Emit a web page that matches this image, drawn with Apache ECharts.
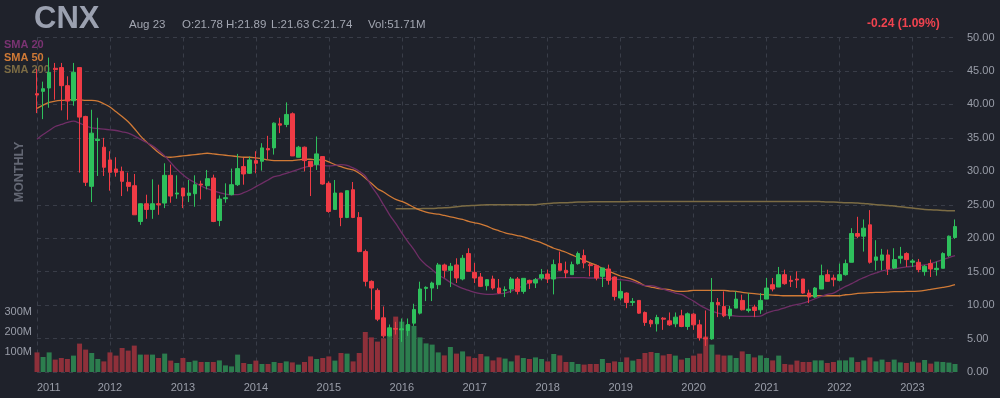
<!DOCTYPE html>
<html>
<head>
    <meta charset="UTF-8">
    <title>CNX monthly</title>
    <script src="https://cdn.jsdelivr.net/npm/echarts@6/dist/echarts.min.js"></script>
    <style>
        html, body { margin: 0; padding: 0; background: #1f222b; }
        #chart { width: 1000px; height: 398px; }
    </style>
</head>
<body>
    <div id="chart"></div>
    <script>
        // monthly bars Jan 2011 .. Aug 2023
        var months = [];
        for (var y = 2011; y <= 2023; y++) {
            for (var m = 1; m <= 12; m++) {
                if (y === 2023 && m > 8) break;
                months.push(y + '-' + (m < 10 ? '0' + m : m));
            }
        }

        var opens = [41.6, 41.95, 42.45, 45.4, 45.5, 42.8, 40.55, 45.5, 38.2, 27.75, 34.6, 33.6,
            31.7, 30.35, 30.0, 28.35, 27.85, 22.5, 25.15, 24.3, 25.15, 25.25, 29.4, 26.6,
            27.5, 26.4, 26.65, 28.1, 27.85, 29.0, 22.65, 25.9, 26.5, 28.0, 30.7, 29.7,
            31.6, 31.5, 33.4, 33.5, 37.1, 37.0, 38.6, 32.1, 33.6, 31.5, 31.0, 32.2,
            28.2, 24.3, 26.75, 23.1, 27.25, 23.1, 18.0, 13.55, 12.2, 8.1, 5.4, 6.5,
            6.3, 6.2, 7.3, 8.8, 12.5, 12.55, 13.05, 16.0, 15.2, 16.0, 13.9, 17.7,
            14.9, 14.2, 12.9, 13.9, 12.55, 12.2, 12.4, 13.9, 12.05, 13.7, 13.3, 14.05,
            14.65, 13.9, 16.2, 15.2, 14.55, 16.2, 17.4, 16.05, 15.9, 14.3, 15.4, 14.2,
            11.05, 11.8, 10.4, 10.7, 8.9, 7.7, 7.2, 8.05, 7.65, 7.2, 8.4, 6.8,
            8.65, 7.05, 5.1, 4.95, 10.4, 9.8, 8.4, 9.55, 10.7, 9.2, 9.7, 9.3,
            10.9, 13.05, 12.7, 14.55, 13.7, 13.9, 13.9, 11.8, 11.2, 12.4, 14.55, 14.05,
            13.7, 14.55, 16.4, 20.7, 20.3, 22.0, 16.7, 16.7, 17.5, 15.55, 17.0, 17.7,
            16.4, 16.4, 15.0, 16.2, 15.3, 15.5, 17.4, 20.1];
        var highs = [45.3, 43.4, 47.0, 46.2, 46.2, 44.2, 46.2, 45.5, 38.3, 39.2, 38.0, 35.0,
            33.0, 32.1, 30.7, 29.8, 29.6, 25.2, 26.5, 28.8, 28.0, 31.2, 31.0, 29.4,
            27.5, 28.7, 29.4, 28.6, 30.2, 29.5, 26.4, 28.2, 30.4, 32.6, 32.0, 32.2,
            33.0, 34.2, 35.3, 37.3, 38.0, 40.3, 38.8, 33.8, 33.7, 31.5, 35.2, 32.2,
            28.5, 28.7, 26.75, 27.1, 28.4, 23.9, 18.3, 13.7, 12.5, 9.8, 7.1, 7.5,
            8.0, 8.0, 10.2, 13.5, 12.8, 13.5, 16.3, 16.2, 16.3, 17.0, 17.5, 18.5,
            16.3, 14.8, 13.9, 14.4, 13.9, 12.8, 14.2, 14.2, 14.0, 13.8, 14.05, 15.4,
            15.3, 16.8, 18.0, 16.5, 16.5, 18.0, 18.3, 16.3, 16.05, 15.55, 16.05, 14.3,
            13.55, 11.9, 11.05, 10.7, 9.05, 7.9, 8.55, 8.2, 8.9, 8.9, 9.3, 8.9,
            8.8, 7.8, 9.2, 14.05, 11.05, 12.05, 9.9, 12.05, 11.55, 11.8, 10.05, 11.8,
            14.05, 14.05, 15.7, 15.3, 14.4, 15.05, 13.9, 12.3, 12.7, 16.05, 15.3, 14.55,
            16.2, 16.8, 21.5, 23.2, 22.8, 24.2, 19.7, 18.4, 18.3, 18.5, 18.7, 17.9,
            16.9, 16.9, 16.0, 16.8, 16.5, 17.9, 20.4, 22.8];
        var lows = [38.7, 37.8, 39.5, 40.7, 39.1, 37.7, 39.8, 29.8, 27.8, 25.4, 29.3, 29.3,
            27.1, 29.2, 26.3, 27.0, 23.5, 22.0, 22.9, 22.9, 23.5, 24.5, 25.3, 25.9,
            24.5, 25.4, 24.7, 25.8, 27.3, 22.4, 21.8, 25.3, 26.4, 27.8, 28.0, 29.6,
            29.7, 30.1, 31.8, 32.5, 35.7, 36.6, 32.3, 32.1, 30.0, 26.3, 30.2, 28.0,
            23.8, 24.3, 21.8, 23.0, 23.0, 17.9, 12.8, 9.3, 7.6, 5.1, 5.3, 5.6,
            4.5, 5.4, 6.9, 8.6, 10.6, 10.6, 12.4, 14.1, 12.7, 13.3, 13.7, 15.0,
            13.3, 12.7, 12.2, 12.3, 11.7, 11.2, 11.8, 11.6, 11.7, 12.4, 12.55, 13.7,
            13.3, 11.6, 15.2, 14.05, 14.55, 16.05, 15.5, 14.3, 13.7, 12.7, 13.05, 10.7,
            10.7, 9.55, 9.9, 8.7, 6.9, 6.7, 6.05, 6.3, 6.9, 6.7, 6.7, 6.3,
            6.3, 4.7, 3.9, 4.8, 8.2, 8.2, 7.9, 9.55, 9.2, 8.9, 8.2, 8.7,
            10.9, 12.05, 12.7, 13.05, 12.7, 12.55, 11.7, 10.3, 11.05, 12.4, 13.55, 12.8,
            13.55, 14.4, 16.4, 20.0, 18.0, 16.2, 15.2, 15.2, 14.5, 15.4, 16.2, 15.7,
            15.7, 14.9, 14.4, 14.2, 14.4, 15.5, 17.2, 19.9];
        var closes = [41.4, 42.35, 44.8, 45.2, 42.8, 40.5, 44.8, 38.1, 28.35, 35.7, 34.8, 30.6,
            29.85, 29.85, 28.5, 27.75, 23.5, 25.15, 24.3, 25.15, 25.0, 29.4, 26.3, 26.75,
            26.3, 26.75, 28.0, 27.95, 28.9, 22.5, 25.85, 26.05, 28.0, 30.4, 29.6, 31.7,
            31.2, 33.5, 33.2, 37.2, 36.9, 38.5, 32.3, 33.6, 31.6, 30.7, 32.6, 28.1,
            24.0, 26.75, 23.1, 27.1, 23.1, 18.0, 13.55, 12.55, 7.9, 5.4, 6.6, 6.4,
            6.45, 7.1, 9.35, 12.4, 12.65, 13.3, 16.0, 15.2, 15.8, 14.05, 17.0, 15.05,
            14.05, 12.8, 13.8, 12.55, 11.8, 12.3, 13.9, 12.05, 14.0, 13.3, 13.8, 14.55,
            13.9, 16.05, 15.2, 14.8, 16.05, 17.7, 16.3, 15.9, 14.05, 15.55, 13.7, 11.3,
            12.05, 10.4, 10.55, 8.8, 7.4, 7.2, 8.15, 7.9, 7.05, 8.2, 6.8, 8.7,
            7.05, 5.1, 4.95, 10.4, 10.05, 8.4, 9.4, 10.9, 9.3, 9.4, 9.2, 10.7,
            12.55, 12.4, 14.55, 13.2, 13.55, 13.75, 11.8, 11.2, 12.55, 14.4, 13.55, 13.8,
            14.55, 16.2, 20.7, 20.3, 21.5, 16.4, 17.2, 17.5, 15.4, 16.8, 17.3, 16.8,
            16.6, 15.3, 15.8, 15.4, 15.5, 17.7, 20.3, 21.74];
        // volume in millions
        var volumes = [98, 75, 98, 62, 70, 65, 82, 142, 112, 95, 65, 53,
            98, 82, 120, 107, 132, 87, 87, 87, 70, 92, 57, 45,
            70, 50, 57, 50, 50, 50, 58, 33, 28, 87, 45, 40,
            57, 40, 40, 50, 45, 53, 48, 37, 50, 78, 65, 70,
            78, 57, 95, 92, 53, 95, 200, 173, 152, 168, 185, 277,
            252, 235, 230, 173, 143, 137, 98, 83, 125, 92, 103, 78,
            70, 90, 78, 58, 73, 67, 53, 83, 70, 65, 73, 65,
            53, 90, 83, 50, 50, 40, 37, 40, 40, 65, 45, 53,
            50, 73, 57, 65, 95, 100, 95, 83, 90, 82, 62, 70,
            82, 92, 178, 137, 87, 82, 83, 70, 103, 90, 73, 83,
            70, 58, 82, 40, 37, 57, 50, 50, 58, 58, 45, 50,
            58, 58, 73, 50, 58, 73, 53, 62, 50, 62, 48, 45,
            52, 47, 60, 42, 52, 50, 47, 40];
        var sma20 = [34.8, 35.5, 36.1, 36.7, 37.0, 37.3, 37.5, 37.2, 36.8, 36.5, 36.4, 36.3,
            36.2, 36.1, 35.9, 35.7, 35.3, 34.8, 34.3, 33.8, 33.1, 32.3, 31.3, 30.3,
            29.5, 28.8, 28.3, 27.8, 27.4, 27.1, 26.8, 26.6, 26.5, 26.5, 26.8, 27.2,
            27.7, 28.2, 28.7, 29.2, 29.4, 29.7, 30.0, 30.3, 30.6, 30.8, 31.0, 30.9,
            30.8, 30.9, 31.0, 30.9, 30.5, 30.0, 29.3, 27.8, 26.5, 25.0, 23.5, 22.2,
            20.8, 19.5, 18.3, 16.9, 16.0, 15.3, 14.5, 14.0, 13.4, 12.9, 12.5, 12.2,
            11.9, 11.7, 11.6, 11.6, 11.7, 11.8, 12.1, 12.5, 12.9, 13.4, 13.8, 14.0,
            14.05, 14.05, 14.1, 14.1, 14.1, 14.1, 14.1, 14.05, 14.05, 14.0, 14.0, 13.9,
            13.8, 13.7, 13.5, 13.2, 12.9, 12.9, 12.7, 12.4, 12.1, 11.8, 11.6, 11.1,
            10.6, 10.0, 9.5, 9.1, 8.8, 8.6, 8.45, 8.35, 8.3, 8.3, 8.3, 8.35,
            8.8, 9.1, 9.3, 9.6, 9.9, 10.1, 10.3, 10.6, 10.95, 11.3, 11.6, 11.8,
            12.3, 12.8, 13.2, 13.7, 14.1, 14.5, 14.8, 15.1, 15.3, 15.45, 15.55, 15.7,
            15.8, 15.9, 16.0, 16.2, 16.5, 16.8, 17.1, 17.4];
        var sma50 = [39.4, 39.9, 40.3, 40.5, 40.6, 40.65, 40.7, 40.7, 40.6, 40.6, 40.5, 40.1,
            39.6, 38.9, 38.2, 37.4, 36.4, 35.3, 34.4, 33.6, 32.8, 32.2, 32.1, 32.2,
            32.3, 32.4, 32.5, 32.6, 32.7, 32.6, 32.5, 32.4, 32.3, 32.2, 32.1, 32.1,
            32.0, 31.9, 31.7, 31.6, 31.6, 31.6, 31.6, 31.7, 31.8, 31.8, 31.7, 31.7,
            31.4, 31.0, 30.7, 30.4, 30.2, 29.7, 29.0, 28.2, 27.4, 26.9, 26.3, 25.8,
            25.5, 25.1, 24.6, 24.2, 23.9, 23.7, 23.6, 23.4, 23.2, 23.0, 22.8, 22.5,
            22.3, 22.1, 21.8, 21.4, 21.1, 20.8, 20.6, 20.4, 20.2, 19.9, 19.6, 19.3,
            18.9, 18.5, 18.2, 17.9, 17.5, 17.1, 16.7, 16.3, 15.95, 15.5, 15.1, 14.7,
            14.35, 14.1, 13.8, 13.4, 12.9, 12.7, 12.5, 12.4, 12.3, 12.1, 12.05, 12.1,
            12.2, 12.2, 12.2, 12.2, 12.2, 12.2, 12.1, 12.05, 11.9, 11.8, 11.7, 11.6,
            11.55, 11.5, 11.45, 11.4, 11.4, 11.4, 11.4, 11.4, 11.4, 11.4, 11.4, 11.4,
            11.4, 11.55, 11.6, 11.75, 11.8, 11.85, 11.9, 11.9, 11.95, 12.0, 12.0, 12.05,
            12.05, 12.1, 12.2, 12.35, 12.5, 12.65, 12.8, 13.05];
        var sma200 = [null, null, null, null, null, null, null, null, null, null, null, null,
            null, null, null, null, null, null, null, null, null, null, null, null,
            null, null, null, null, null, null, null, null, null, null, null, null,
            null, null, null, null, null, null, null, null, null, null, null, null,
            null, null, null, null, null, null, null, null, null, null, null, 24.4,
            24.4, 24.4, 24.4, 24.4, 24.45, 24.45, 24.5, 24.55, 24.6, 24.7, 24.8, 24.85,
            24.9, 24.95, 25.0, 25.0, 25.0, 25.0, 25.0, 25.0, 25.0, 25.0, 25.0, 25.1,
            25.2, 25.25, 25.3, 25.3, 25.35, 25.4, 25.4, 25.45, 25.45, 25.45, 25.45, 25.45,
            25.45, 25.45, 25.5, 25.5, 25.5, 25.5, 25.5, 25.5, 25.5, 25.5, 25.5, 25.5,
            25.5, 25.5, 25.5, 25.5, 25.5, 25.5, 25.5, 25.5, 25.5, 25.5, 25.5, 25.5,
            25.5, 25.5, 25.5, 25.5, 25.5, 25.5, 25.5, 25.5, 25.5, 25.45, 25.4, 25.4,
            25.35, 25.3, 25.3, 25.25, 25.2, 25.1, 25.0, 24.95, 24.9, 24.8, 24.7, 24.6,
            24.5, 24.4, 24.3, 24.25, 24.2, 24.15, 24.1, 24.1];
        var priceTicks = [0, 50, 5];
        var volumeTicks = [100, 200, 300];
        var lastPrice = 21.74;

        var UP = '#2ec05c', DOWN = '#ef3b45';
        var VOL_UP = '#2c7d4e', VOL_DOWN = '#8e303a';
        var FONT = 'Liberation Sans, Arial, sans-serif';

        var candles = months.map(function (d, i) {
            return [opens[i], closes[i], lows[i], highs[i]];
        });
        var volData = volumes.map(function (v, i) {
            return {
                value: v,
                itemStyle: { color: closes[i] >= opens[i] ? VOL_UP : VOL_DOWN }
            };
        });

        var chart = echarts.init(document.getElementById('chart'));

        var yearTick = function (idx) { return idx % 12 === 0; };

        var option = {
            backgroundColor: '#1f222b',
            animation: false,
            textStyle: { fontFamily: FONT },
            grid: [
                { left: 37, right: 45, top: 37.5, bottom: 26 },
                { left: 37, right: 45, bottom: 26, height: 80 }
            ],
            xAxis: [{
                type: 'category',
                gridIndex: 0,
                data: months,
                boundaryGap: false,
                axisLine: { show: false },
                axisTick: { show: false },
                axisLabel: {
                    interval: yearTick,
                    formatter: function (v) { return v.slice(0, 4); },
                    color: '#9a9ea9',
                    fontSize: 11,
                    margin: 10,
                    alignMinLabel: 'left',
                    fontFamily: FONT
                },
                splitLine: {
                    show: true,
                    interval: yearTick,
                    lineStyle: { color: '#393d48', type: [4, 4] }
                }
            }, {
                type: 'category',
                gridIndex: 1,
                data: months,
                boundaryGap: false,
                show: false
            }],
            yAxis: [{
                type: 'value',
                gridIndex: 0,
                position: 'right',
                min: priceTicks[0],
                max: priceTicks[1],
                interval: priceTicks[2],
                axisLine: { show: false },
                axisTick: { show: false },
                axisLabel: {
                    color: '#9a9ea9',
                    fontSize: 11,
                    margin: 12,
                    fontFamily: FONT,
                    formatter: function (v) { return v.toFixed(2); }
                },
                splitLine: { lineStyle: { color: '#393d48', type: [4, 4] } }
            }, {
                type: 'value',
                gridIndex: 1,
                position: 'left',
                min: 0,
                max: 400,
                interval: 100,
                axisLine: { show: false },
                axisTick: { show: false },
                splitLine: { show: false },
                axisLabel: {
                    color: '#9a9ea9',
                    fontSize: 11,
                    margin: 5,
                    fontFamily: FONT,
                    formatter: function (v) {
                        return volumeTicks.indexOf(v) >= 0 ? v + 'M' : '';
                    }
                }
            }],
            series: [{
                name: 'Volume',
                type: 'bar',
                xAxisIndex: 1,
                yAxisIndex: 1,
                data: volData,
                barWidth: '82%',
                clip: false,
                z: 1
            }, {
                name: 'CNX',
                type: 'candlestick',
                xAxisIndex: 0,
                yAxisIndex: 0,
                data: candles,
                barWidth: '68%',
                clip: false,
                z: 5,
                itemStyle: {
                    color: UP,
                    color0: DOWN,
                    borderColor: UP,
                    borderColor0: DOWN,
                    borderWidth: 1
                },
                markLine: {
                    silent: true,
                    symbol: 'none',
                    lineStyle: { opacity: 0 },
                    data: [{ yAxis: lastPrice }],
                    label: {
                        position: 'end',
                        distance: 9,
                        formatter: lastPrice.toFixed(2),
                        backgroundColor: '#f2c344',
                        color: '#15171c',
                        fontWeight: 'bold',
                        fontSize: 11,
                        fontFamily: FONT,
                        padding: [2, 3, 1, 3]
                    }
                }
            }, {
                name: 'SMA 200',
                type: 'line',
                data: sma200,
                showSymbol: false,
                smooth: 0.3,
                z: 3,
                lineStyle: { color: '#7c6c44', width: 1.5 }
            }, {
                name: 'SMA 50',
                type: 'line',
                data: sma50,
                showSymbol: false,
                smooth: 0.3,
                z: 3,
                lineStyle: { color: '#d07a36', width: 1.3 }
            }, {
                name: 'SMA 20',
                type: 'line',
                data: sma20,
                showSymbol: false,
                smooth: 0.3,
                z: 3,
                lineStyle: { color: '#6f2e66', width: 1.3 }
            }],
            graphic: [
                { type: 'text', left: 34, top: 4, style: { text: 'CNX', fill: '#9ba1b0', font: 'bold 31px ' + FONT } },
                { type: 'text', left: 129, top: 19, style: { text: 'Aug 23', fill: '#a2a6b1', font: '11.5px ' + FONT } },
                { type: 'text', left: 182, top: 19, style: { text: 'O:21.78', fill: '#a2a6b1', font: '11.5px ' + FONT } },
                { type: 'text', left: 226, top: 19, style: { text: 'H:21.89', fill: '#a2a6b1', font: '11.5px ' + FONT } },
                { type: 'text', left: 271, top: 19, style: { text: 'L:21.63', fill: '#a2a6b1', font: '11.5px ' + FONT } },
                { type: 'text', left: 312, top: 19, style: { text: 'C:21.74', fill: '#a2a6b1', font: '11.5px ' + FONT } },
                { type: 'text', left: 368, top: 19, style: { text: 'Vol:51.71M', fill: '#a2a6b1', font: '11.5px ' + FONT } },
                { type: 'text', left: 867, top: 18, style: { text: '-0.24 (1.09%)', fill: '#f0434f', font: 'bold 12px ' + FONT } },
                { type: 'text', left: 4, top: 39, style: { text: 'SMA 20', fill: '#7a3372', font: 'bold 11px ' + FONT } },
                { type: 'text', left: 4, top: 52, style: { text: 'SMA 50', fill: '#d07a36', font: 'bold 11px ' + FONT } },
                { type: 'text', left: 4, top: 64, style: { text: 'SMA 200', fill: '#7c6c44', font: 'bold 11px ' + FONT } },
                {
                    type: 'text',
                    x: 20, y: 172,
                    rotation: Math.PI / 2,
                    style: {
                        text: 'MONTHLY',
                        fill: '#636773',
                        font: 'bold 12.5px ' + FONT,
                        align: 'center',
                        verticalAlign: 'middle'
                    }
                }
            ]
        };

        chart.setOption(option);
    </script>
</body>
</html>
